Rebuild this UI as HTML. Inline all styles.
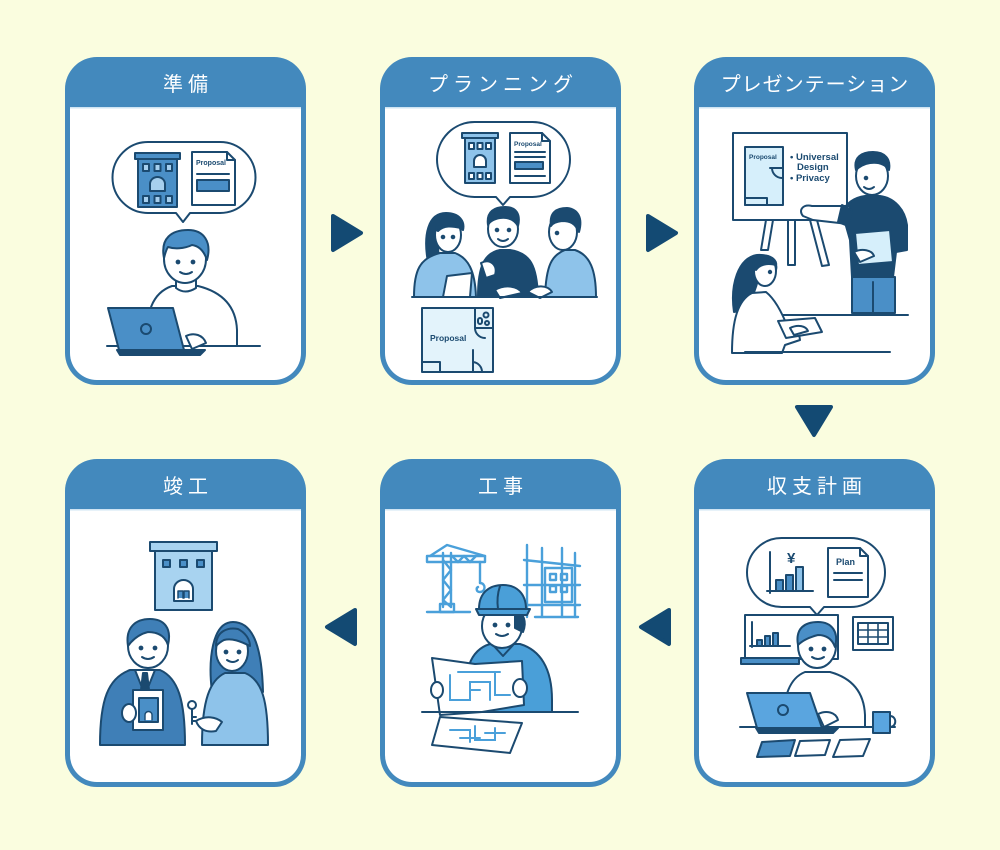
<!DOCTYPE html>
<html><head><meta charset="utf-8"><style>
html,body{margin:0;padding:0;background:#fafddf;}
svg{display:block;}
.h{font-family:"Liberation Sans","Noto Sans CJK JP",sans-serif;font-size:20px;fill:#fff;text-anchor:middle;letter-spacing:5px;}
.t{font-family:"Liberation Sans",sans-serif;font-weight:bold;fill:#1b4a70;}
</style></head><body>
<svg width="1000" height="850" viewBox="0 0 1000 850" xmlns="http://www.w3.org/2000/svg">
<rect width="1000" height="850" fill="#fafddf"/>
<defs>
<g id="card">
<rect x="0" y="0" width="241" height="328" rx="32" fill="#4389bd"/>
<path d="M5 50 H236 V296 A27 27 0 0 1 209 323 H32 A27 27 0 0 1 5 296 Z" fill="#fff"/>
<rect x="5" y="50" width="231" height="1.5" fill="#cfe4f3"/>
</g>
</defs>
<use href="#card" x="65" y="57"/>
<use href="#card" x="380" y="57"/>
<use href="#card" x="694" y="57"/>
<use href="#card" x="65" y="459"/>
<use href="#card" x="380" y="459"/>
<use href="#card" x="694" y="459"/>

<text class="h" x="188" y="91">準備</text>
<text class="h" x="503" y="91">プランニング</text>
<text class="h" x="815" y="91" style="letter-spacing:1px">プレゼンテーション</text>
<text class="h" x="188" y="493">竣工</text>
<text class="h" x="503" y="493">工事</text>
<text class="h" x="817" y="493">収支計画</text>

<!-- arrows -->
<g fill="#134a73" stroke="#134a73" stroke-width="4" stroke-linejoin="round">
<polygon points="333,216 361,233 333,250"/>
<polygon points="648,216 676,233 648,250"/>
<polygon points="797,407 831,407 814,435"/>
<polygon points="669,610 641,627 669,644"/>
<polygon points="355,610 327,627 355,644"/>
</g>

<g stroke="#1b4a70" stroke-width="2" stroke-linejoin="round" stroke-linecap="round">
<!-- ===== CARD 1 ===== -->
<path d="M148 142 H220 A35.5 35.5 0 0 1 220 213 H190 L183 222 L176 213 H148 A35.5 35.5 0 0 1 148 142 Z" fill="#fff"/>
<rect x="135" y="153" width="45" height="6" fill="#4a8fc7"/>
<rect x="138" y="159" width="39" height="48" fill="#4a8fc7"/>
<rect x="143" y="164" width="6" height="7" fill="#a6cfee"/>
<rect x="154.5" y="164" width="6" height="7" fill="#a6cfee"/>
<rect x="166" y="164" width="6" height="7" fill="#a6cfee"/>
<path d="M150 191 V184 A7.5 7 0 0 1 165 184 V191 Z" fill="#a6cfee"/>
<rect x="143" y="196" width="6" height="7" fill="#a6cfee"/>
<rect x="154.5" y="196" width="6" height="7" fill="#a6cfee"/>
<rect x="166" y="196" width="6" height="7" fill="#a6cfee"/>
<path d="M192 152 H227 L235 160 V205 H192 Z" fill="#fff"/>
<path d="M227 152 V160 H235" fill="none"/>
<line x1="197" y1="174" x2="229" y2="174"/>
<rect x="197" y="180" width="32" height="11" fill="#4a8fc7"/>
<!-- person -->
<path d="M146 346 C146 312 152 293 172 286 L198 286 C222 292 236 306 237 330 L237 346 Z" fill="#fff"/>
<path d="M176 276 V288 Q185 295 196 288 V276" fill="#fff"/>
<ellipse cx="185" cy="259" rx="21" ry="24" fill="#fff"/>
<path d="M164 258 C160 238 172 230 188 230 C204 230 212 242 207 260 C204 251 199 246 192 245 C184 249 174 249 168 247 C166 250 165 254 164 258 Z" fill="#4a8fc7"/>
<circle cx="178" cy="262" r="1.4" fill="#1b4a70"/>
<circle cx="193" cy="262" r="1.4" fill="#1b4a70"/>
<path d="M180 272 Q186 276 192 272" fill="none"/>
<path d="M108 308 H173 L184 350 H119 Z" fill="#4a8fc7"/>
<circle cx="146" cy="329" r="5" fill="none"/>
<path d="M186 336 C194 332 203 335 206 343 L192 349 Z" fill="#fff"/>
<path d="M117 350 H205 L200 355 H120 Z" fill="#1b4a70"/>
<line x1="107" y1="346" x2="117" y2="346"/>
<line x1="205" y1="346" x2="260" y2="346"/>

<!-- ===== CARD 2 ===== -->
<path d="M474.5 122 H532.5 A37.5 37.5 0 0 1 532.5 197 H510 L503 205 L496 197 H474.5 A37.5 37.5 0 0 1 474.5 122 Z" fill="#fff"/>
<rect x="462" y="133" width="36" height="5" fill="#8ec3ea"/>
<rect x="465" y="138" width="30" height="45" fill="#8ec3ea"/>
<rect x="469" y="143" width="5" height="6" fill="#fff"/>
<rect x="477.5" y="143" width="5" height="6" fill="#fff"/>
<rect x="486" y="143" width="5" height="6" fill="#fff"/>
<path d="M474 167 V161 A6 6 0 0 1 486 161 V167 Z" fill="#fff"/>
<rect x="469" y="173" width="5" height="6" fill="#fff"/>
<rect x="477.5" y="173" width="5" height="6" fill="#fff"/>
<rect x="486" y="173" width="5" height="6" fill="#fff"/>
<path d="M510 133 H542 L550 141 V183 H510 Z" fill="#fff"/>
<path d="M542 133 V141 H550" fill="none"/>
<line x1="515" y1="152" x2="545" y2="152"/>
<line x1="515" y1="157" x2="545" y2="157"/>
<rect x="515" y="162" width="28" height="7" fill="#4a8fc7"/>
<line x1="515" y1="176" x2="545" y2="176"/>
<!-- left woman -->
<path d="M428 262 C423 235 428 213 446 213 C460 213 465 222 463 230 C456 226 449 224 441 226 C437 236 438 250 439 262 Z" fill="#1b4a70"/>
<path d="M414 297 C414 270 420 258 440 253 L455 253 C468 258 475 270 476 297 Z" fill="#8ec3ea"/>
<ellipse cx="448" cy="235" rx="13" ry="17" fill="#fff"/>
<path d="M436 230 C437 220 445 216 454 218 C459 221 461 225 461 228 C452 226 444 225 438 231 Z" fill="#1b4a70"/>
<circle cx="443" cy="237" r="1.3" fill="#1b4a70"/>
<circle cx="453" cy="237" r="1.3" fill="#1b4a70"/>
<polygon points="447,276 472,273 470,297 443,297" fill="#fff"/>
<!-- middle man -->
<path d="M478 297 C478 265 485 253 500 250 L510 250 C530 253 537 265 538 297 Z" fill="#1b4a70"/>
<ellipse cx="503" cy="229" rx="15" ry="18" fill="#fff"/>
<path d="M488 225 C486 211 495 207 505 207 C516 207 521 214 518 226 C514 219 508 217 500 218 C494 219 490 221 488 225 Z" fill="#1b4a70"/>
<circle cx="497" cy="230" r="1.3" fill="#1b4a70"/>
<circle cx="509" cy="230" r="1.3" fill="#1b4a70"/>
<path d="M498 239 Q503 243 508 239" fill="#fff"/>
<path d="M481 263 C490 258 498 265 495 275 L486 278 Z" fill="#fff"/>
<path d="M495 290 C505 284 518 286 522 293 L500 298 Z" fill="#fff"/>
<!-- right man -->
<path d="M545 297 C546 265 552 255 565 250 L575 250 C590 255 596 270 596 297 Z" fill="#8ec3ea"/>
<ellipse cx="563" cy="232" rx="14" ry="18" fill="#fff"/>
<path d="M551 226 C549 212 557 208 567 208 C578 209 583 218 579 232 C575 223 570 221 562 221 C556 222 553 223 551 226 Z" fill="#1b4a70"/>
<circle cx="557" cy="233" r="1.3" fill="#1b4a70"/>
<path d="M528 292 C535 284 548 285 552 292 L540 298 Z" fill="#fff"/>
<line x1="412" y1="297" x2="597" y2="297"/>
<!-- floor plan -->
<rect x="422" y="308" width="71" height="64" fill="#e3f3fb"/>
<path d="M475 308 V328 H493" fill="none"/>
<circle cx="486" cy="315" r="2.5" fill="none"/>
<circle cx="487" cy="323" r="2" fill="none"/>
<rect x="478" y="318" width="4" height="6" rx="2" fill="none"/>
<path d="M475 328 A10 10 0 0 0 485 338" fill="none"/>
<path d="M422 362 H440 V372" fill="none"/>
<path d="M473 350 V372 M482 372 A10 10 0 0 0 473 362" fill="none"/>

<!-- ===== CARD 3 ===== -->
<polygon points="766,220 773,220 768,250 761,250" fill="#fff"/>
<rect x="788" y="220" width="7" height="45" fill="#fff"/>
<polygon points="810,220 817,220 829,265 822,266" fill="#fff"/>
<rect x="733" y="133" width="114" height="87" fill="#fff"/>
<rect x="745" y="147" width="38" height="58" fill="#d6effb"/>
<path d="M770 168 H783 M772 168 A10 10 0 0 0 782 178" fill="none"/>
<rect x="745" y="198" width="22" height="7" fill="#d6effb"/>
<!-- man -->
<path d="M842 212 C848 200 858 197 865 196 L880 196 C895 198 905 210 907 225 L907 250 L896 252 L893 277 L852 277 L850 240 Z" fill="#1b4a70"/>
<path d="M850 206 L812 206 C803 204 798 210 803 216 L813 220 L848 224 Z" fill="#fff"/>
<path d="M842 205 L852 210 L848 226 L838 222 Z" fill="#1b4a70"/>
<ellipse cx="872" cy="176" rx="16" ry="19" fill="#fff"/>
<path d="M856 170 C853 157 862 152 873 152 C885 152 891 159 889 170 C885 164 878 162 870 163 C864 164 860 166 856 170 Z" fill="#1b4a70"/>
<circle cx="866" cy="178" r="1.3" fill="#1b4a70"/>
<path d="M864 187 Q869 191 874 187" fill="#fff"/>
<polygon points="855,233 890,230 893,262 858,265" fill="#d6effb"/>
<path d="M854 252 C862 248 872 250 874 256 L860 262 Z" fill="#fff"/>
<rect x="852" y="277" width="43" height="36" fill="#4a8fc7"/>
<line x1="873" y1="282" x2="873" y2="313"/>
<line x1="775" y1="315" x2="908" y2="315"/>
<!-- woman -->
<path d="M734 312 C730 285 738 258 757 255 C771 254 778 262 776 270 C768 268 762 272 758 280 C754 295 748 310 734 312 Z" fill="#1b4a70"/>
<path d="M732 353 C732 320 738 300 752 293 L766 292 C776 300 783 315 788 328 L798 328 L800 340 L785 345 L782 353 Z" fill="#fff"/>
<ellipse cx="765" cy="271" rx="11" ry="15" fill="#fff"/>
<path d="M753 266 C753 257 760 254 768 256 C774 258 777 262 776 265 C768 263 760 264 756 270 Z" fill="#1b4a70"/>
<circle cx="770" cy="272" r="1.2" fill="#1b4a70"/>
<polygon points="778,321 815,318 822,332 786,338" fill="#fff"/>
<path d="M790 328 C798 324 806 326 808 331 L794 335 Z" fill="#fff"/>
<line x1="745" y1="352" x2="890" y2="352"/>

<!-- ===== CARD 4 ===== -->
<path d="M781.5 538 H850.5 A34.5 34.5 0 0 1 850.5 607 H824 L817 615 L810 607 H781.5 A34.5 34.5 0 0 1 781.5 538 Z" fill="#fff"/>
<line x1="770" y1="552" x2="770" y2="593"/>
<line x1="767" y1="591" x2="813" y2="591"/>
<rect x="776" y="580" width="7" height="11" fill="#4a8fc7"/>
<rect x="786" y="575" width="7" height="16" fill="#4a8fc7"/>
<rect x="796" y="567" width="7" height="24" fill="#8ec3ea"/>
<path d="M828 548 H860 L868 556 V597 H828 Z" fill="#fff"/>
<path d="M860 548 V556 H868" fill="none"/>
<line x1="834" y1="573" x2="862" y2="573"/>
<line x1="834" y1="580" x2="862" y2="580"/>
<rect x="745" y="615" width="93" height="44" fill="#fff"/>
<rect x="741" y="658" width="58" height="6" fill="#4a8fc7"/>
<line x1="752" y1="622" x2="752" y2="647"/>
<line x1="750" y1="646" x2="790" y2="646"/>
<rect x="757" y="640" width="5" height="6" fill="#4a8fc7"/>
<rect x="765" y="636" width="5" height="10" fill="#4a8fc7"/>
<rect x="773" y="633" width="5" height="13" fill="#4a8fc7"/>
<rect x="853" y="617" width="40" height="33" fill="#fff"/>
<rect x="858" y="623" width="30" height="21" fill="#fff"/>
<path d="M858 630 H888 M858 637 H888 M868 623 V644 M878 623 V644" fill="none" stroke-width="1.6"/>
<!-- person -->
<path d="M783 727 C783 695 790 678 805 672 L830 672 C852 678 864 692 865 715 L865 727 Z" fill="#fff"/>
<ellipse cx="817" cy="646" rx="19" ry="22" fill="#fff"/>
<path d="M798 645 C795 628 805 622 818 622 C832 622 839 632 835 647 C832 639 826 635 818 635 C810 637 803 640 798 645 Z" fill="#4a8fc7"/>
<circle cx="811" cy="649" r="1.4" fill="#1b4a70"/>
<circle cx="824" cy="649" r="1.4" fill="#1b4a70"/>
<path d="M812 657 Q818 661 824 657" fill="none"/>
<path d="M747 693 H810 L822 728 H757 Z" fill="#5aa5df"/>
<circle cx="783" cy="710" r="5" fill="none"/>
<path d="M818 714 C826 710 836 712 838 720 L824 727 Z" fill="#fff"/>
<path d="M756 728 H838 L833 733 H759 Z" fill="#1b4a70"/>
<line x1="740" y1="727" x2="756" y2="727"/>
<line x1="838" y1="727" x2="895" y2="727"/>
<rect x="873" y="712" width="17" height="21" fill="#5aa5df"/>
<path d="M890 716 C897 716 897 727 890 727" fill="none"/>
<polygon points="762,742 795,740 790,756 757,757" fill="#4a8fc7"/>
<polygon points="800,741 830,740 825,755 795,756" fill="#fff"/>
<polygon points="840,740 870,739 863,756 833,757" fill="#fff"/>
</g>

<!-- ===== CARD 5 ===== -->
<g stroke="#4aa0da" stroke-width="2.4" fill="none" stroke-linecap="round" stroke-linejoin="round">
<line x1="443" y1="553" x2="443" y2="607"/>
<line x1="451" y1="553" x2="451" y2="607"/>
<path d="M443 560 L451 570 L443 580 L451 590 L443 600 L451 607"/>
<rect x="427" y="556" width="58" height="6"/>
<path d="M430 556 L447 545 L485 556"/>
<path d="M452 556 L458 562 L464 556 L470 562 L476 556"/>
<line x1="480" y1="562" x2="480" y2="583"/>
<path d="M480 583 C486 583 486 592 480 592 C476 592 476 588 478 587"/>
<line x1="427" y1="612" x2="470" y2="612"/>
<rect x="440" y="604" width="14" height="8"/>
<line x1="527" y1="545" x2="527" y2="617"/>
<line x1="542" y1="548" x2="542" y2="617"/>
<line x1="562" y1="548" x2="562" y2="617"/>
<line x1="575" y1="553" x2="575" y2="617"/>
<line x1="524" y1="560" x2="580" y2="566"/>
<line x1="524" y1="585" x2="580" y2="585"/>
<line x1="524" y1="605" x2="580" y2="605"/>
<rect x="545" y="568" width="27" height="34"/>
<rect x="550" y="574" width="6" height="6"/>
<rect x="561" y="574" width="6" height="6"/>
<rect x="550" y="586" width="6" height="6"/>
<rect x="561" y="586" width="6" height="6"/>
<line x1="535" y1="617" x2="578" y2="617"/>
</g>
<g stroke="#1b4a70" stroke-width="2" stroke-linejoin="round" stroke-linecap="round">
<path d="M465 712 C463 670 470 650 490 644 L520 644 C540 650 552 668 552 700 L552 712 Z" fill="#4a9fd8"/>
<path d="M492 644 L503 656 L514 644" fill="#4a9fd8"/>
<ellipse cx="502" cy="626" rx="20" ry="22" fill="#fff"/>
<path d="M515 612 C524 612 527 622 523 632 L515 628 Z" fill="#1b4a70"/>
<path d="M479 609 C479 592 490 585 503 585 C516 585 526 593 526 609 Z" fill="#4a9fd8"/>
<path d="M476 609 H530 L527 615 H479 Z" fill="#4a9fd8"/>
<path d="M500 586 C497 595 497 602 498 609" fill="none"/>
<circle cx="495" cy="625" r="1.4" fill="#1b4a70"/>
<circle cx="508" cy="625" r="1.4" fill="#1b4a70"/>
<path d="M496 634 Q502 638 508 634" fill="none"/>
<polygon points="432,658 475,664 522,661 524,705 482,712 440,715" fill="#fff"/>
<ellipse cx="437" cy="690" rx="6" ry="8" fill="#fff"/>
<ellipse cx="520" cy="688" rx="7" ry="9" fill="#fff"/>
<line x1="422" y1="712" x2="578" y2="712"/>
<polygon points="440,717 522,723 510,753 432,745" fill="#fff"/>
</g>
<g stroke="#4aa0da" stroke-width="2" fill="none" stroke-linecap="round">
<path d="M450 675 V700 H470 V682 H490 V700 M470 690 H480 M495 672 V695 H510 M458 672 H500"/>
<path d="M450 730 H470 V742 M475 726 V740 H495 V728 M485 733 H505 M460 738 H480"/>
</g>

<!-- ===== CARD 6 ===== -->
<g stroke="#1b4a70" stroke-width="2" stroke-linejoin="round" stroke-linecap="round">
<rect x="150" y="542" width="67" height="9" fill="#a8d3f0"/>
<rect x="155" y="551" width="57" height="59" fill="#a8d3f0"/>
<rect x="163" y="560" width="7" height="7" fill="#4a8fc7"/>
<rect x="180" y="560" width="7" height="7" fill="#4a8fc7"/>
<rect x="197" y="560" width="7" height="7" fill="#4a8fc7"/>
<path d="M174 601 V589 A9.5 9 0 0 1 193 589 V601 Z" fill="#fff"/>
<path d="M178 598 V591 H183 V598 M184 598 V591 H189 V598" fill="#4a8fc7" stroke-width="1.5"/>
<!-- man -->
<path d="M100 745 C100 700 108 678 130 670 L160 670 C178 678 185 700 185 745 Z" fill="#3f7fb7"/>
<polygon points="135,670 155,670 145,695" fill="#fff"/>
<polygon points="143,673 147,673 149,690 145,695 141,690" fill="#1b4a70"/>
<ellipse cx="148" cy="646" rx="20" ry="22" fill="#fff"/>
<path d="M128 646 C125 627 136 619 150 619 C164 619 172 628 168 645 C165 636 158 632 148 632 C140 634 133 639 128 646 Z" fill="#3f7fb7"/>
<circle cx="141" cy="648" r="1.4" fill="#1b4a70"/>
<circle cx="155" cy="648" r="1.4" fill="#1b4a70"/>
<path d="M142 657 Q148 661 154 657" fill="none"/>
<rect x="133" y="690" width="30" height="40" fill="#fff"/>
<rect x="139" y="698" width="19" height="24" fill="#4a8fc7"/>
<path d="M145 720 V715 A3.5 3.5 0 0 1 152 715 V720" fill="#fff" stroke-width="1.4"/>
<ellipse cx="129" cy="713" rx="7" ry="9" fill="#fff"/>
<!-- key -->
<circle cx="192" cy="705" r="4" fill="none"/>
<path d="M192 709 V724 M192 717 H196 M192 721 H196" fill="none"/>
<!-- woman -->
<path d="M212 692 C208 660 212 622 233 622 C255 622 262 652 263 692 Z" fill="#3f7fb7"/>
<path d="M202 745 C202 700 210 680 225 673 L245 673 C262 680 268 700 268 745 Z" fill="#8ec3ea"/>
<ellipse cx="232" cy="651" rx="16" ry="20" fill="#fff"/>
<path d="M216 646 C216 631 228 627 238 629 C246 633 250 640 250 646 C240 641 232 638 224 640 C220 642 218 644 216 646 Z" fill="#3f7fb7"/>
<circle cx="226" cy="652" r="1.4" fill="#1b4a70"/>
<circle cx="239" cy="652" r="1.4" fill="#1b4a70"/>
<path d="M227 660 Q233 664 238 660" fill="none"/>
<path d="M196 721 C206 715 216 717 222 722 L216 731 C206 733 199 729 196 721 Z" fill="#fff"/>
</g>

<!-- small labels -->
<text class="t" x="196" y="165" font-size="7">Proposal</text>
<text class="t" x="514" y="146" font-size="6.5">Proposal</text>
<text class="t" x="430" y="341" font-size="8.5">Proposal</text>
<text class="t" x="749" y="159" font-size="6.5">Proposal</text>
<text class="t" x="790" y="160" font-size="9.5">• Universal</text>
<text class="t" x="797" y="170" font-size="9.5">Design</text>
<text class="t" x="790" y="181" font-size="9.5">• Privacy</text>
<text class="t" x="787" y="563" font-size="15">¥</text>
<text class="t" x="836" y="565" font-size="9">Plan</text>
</svg>
</body></html>
